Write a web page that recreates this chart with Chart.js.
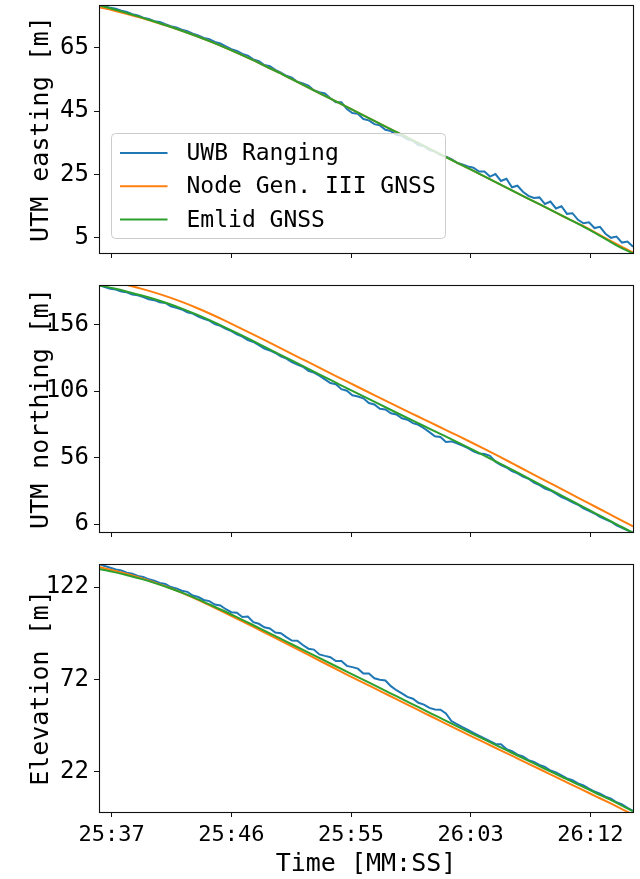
<!DOCTYPE html>
<html>
<head>
<meta charset="utf-8">
<script src="https://cdn.jsdelivr.net/npm/chart.js@4.4.1/dist/chart.umd.min.js"></script>
<style>
  body { margin: 0; background: #fff; }
  #wrap { position: relative; width: 640px; height: 879px; }
  canvas { position: absolute; left: 0; }
</style>
</head>
<body>
<div id="wrap">
  <canvas id="eastingChart" width="640" height="270" style="top:0px"></canvas>
  <canvas id="northingChart" width="640" height="280" style="top:270px"></canvas>
  <canvas id="elevationChart" width="640" height="329" style="top:550px"></canvas>
</div>
<script>
// time is seconds after 25:00
const tickSeconds = [37.8, 46.5, 55.2, 63.9, 72.6];
const tickLabels = ['25:37', '25:46', '25:55', '26:03', '26:12'];
const seriesNames = ['UWB Ranging', 'Node Gen. III GNSS', 'Emlid GNSS'];

const gnssTime = [36.9, 38, 39, 40, 41, 42, 43, 44, 45, 46, 47, 48, 49, 50, 51, 52, 53, 54, 55, 56,
  57, 58, 59, 60, 61, 62, 63, 64, 65, 66, 67, 68, 69, 70, 71, 72, 73, 74, 75, 75.7];

const uwbTime = [36.9, 37.3, 37.7, 38.1, 38.5, 38.9, 39.3, 39.7, 40.1, 40.5, 40.9, 41.3, 41.7, 42.1,
  42.5, 42.9, 43.3, 43.7, 44.1, 44.5, 44.9, 45.3, 45.7, 46.1, 46.5, 46.9, 47.3, 47.7, 48.1, 48.5,
  48.9, 49.3, 49.7, 50.1, 50.5, 50.9, 51.3, 51.7, 52.1, 52.5, 52.9, 53.3, 53.7, 54.1, 54.5, 54.9,
  55.3, 55.7, 56.1, 56.5, 56.9, 57.3, 57.7, 58.1, 58.5, 58.9, 59.3, 59.7, 60.1, 60.5, 60.9, 61.3,
  61.7, 62.1, 62.5, 62.9, 63.3, 63.7, 64.1, 64.5, 64.9, 65.3, 65.7, 66.1, 66.5, 66.9, 67.3, 67.7,
  68.1, 68.5, 68.9, 69.3, 69.7, 70.1, 70.5, 70.9, 71.3, 71.7, 72.1, 72.5, 72.9, 73.3, 73.7, 74.1,
  74.5, 74.9, 75.3, 75.7];

// UTM easting [m]
const eastingUwb = [78.5, 78.2, 77.7, 77.4, 76.8, 76.4, 75.7, 75.3, 74.6, 74.2,
  73.5, 73.2, 72.5, 71.9, 71.5, 70.8, 70.3, 69.5, 69.0, 68.2,
  67.8, 66.9, 66.4, 65.5, 64.6, 64.1, 63.1, 62.6, 61.4, 60.8,
  59.6, 59.2, 58.1, 57.2, 56.2, 55.6, 54.3, 53.8, 53.1, 51.6,
  51.0, 50.6, 49.1, 47.8, 47.8, 45.7, 44.4, 44.2, 42.5, 42.1,
  40.9, 40.5, 39.1, 38.7, 37.5, 37.2, 36.1, 35.6, 34.3, 33.9,
  32.7, 32.2, 31.1, 30.6, 29.8, 28.7, 28.1, 27.5, 27.1, 25.9,
  25.9, 24.3, 25.1, 22.9, 23.6, 20.9, 21.4, 19.5, 18.2, 17.5,
  17.7, 15.6, 16.4, 14.2, 14.9, 12.5, 12.7, 10.6, 9.5, 9.8,
  8.0, 8.4, 6.2, 4.9, 5.3, 3.4, 3.7, 2.1];
const eastingNode = [77.9, 76.8, 75.7, 74.5, 73.1, 71.8, 70.3, 68.7, 67.0, 65.2, 63.3, 61.3, 59.2,
  57.1, 54.9, 52.7, 50.5, 48.3, 46.1, 43.9, 41.7, 39.5, 37.3, 35.1, 32.9, 30.7, 28.5, 26.3, 24.1,
  21.9, 19.7, 17.5, 15.3, 13.1, 10.9, 8.8, 6.5, 4.1, 1.8, 0.3];
const eastingEmlid = [78.5, 77.2, 75.9, 74.6, 73.2, 71.8, 70.3, 68.7, 67.0, 65.2, 63.3, 61.3, 59.2,
  57.1, 54.9, 52.7, 50.5, 48.3, 46.1, 43.9, 41.7, 39.5, 37.3, 35.1, 32.9, 30.7, 28.5, 26.3, 24.1,
  21.9, 19.7, 17.5, 15.3, 13.1, 10.9, 8.7, 6.3, 3.8, 1.4, 0.0];
const eastingTicks = [5, 25, 45, 65];

// UTM northing [m]
const northingUwb = [185.5, 184.2, 182.9, 182.3, 180.8, 180.2, 178.5, 177.9, 176.6, 175.0,
  174.3, 172.8, 172.2, 169.6, 168.6, 167.3, 165.1, 164.2, 162.0, 160.3,
  158.9, 156.3, 155.0, 152.7, 151.1, 148.6, 146.9, 144.2, 142.9, 140.5,
  137.9, 136.5, 134.6, 132.0, 130.3, 127.7, 125.9, 124.2, 121.2, 119.8,
  117.5, 114.8, 112.0, 111.1, 107.4, 106.2, 102.8, 101.9, 100.5, 97.0,
  95.9, 92.7, 92.1, 89.3, 88.4, 85.5, 84.4, 81.8, 80.6, 78.0,
  75.1, 71.9, 71.5, 67.7, 68.1, 66.7, 64.9, 63.0, 60.6, 59.0,
  58.6, 57.3, 52.8, 50.3, 48.5, 45.7, 44.1, 41.6, 40.0, 37.2,
  35.3, 32.7, 31.2, 28.8, 26.3, 24.6, 22.2, 20.5, 17.8, 15.9,
  13.9, 11.4, 9.5, 7.7, 5.0, 3.2, 1.2, -0.5];
const northingNode = [190.5, 188.0, 185.5, 182.8, 179.8, 176.4, 172.6, 168.4, 163.9, 159.1, 154.1,
  149.0, 143.8, 138.6, 133.4, 128.2, 123.0, 117.8, 112.6, 107.5, 102.4, 97.3, 92.2, 87.2, 82.2,
  77.2, 72.2, 67.1, 61.9, 56.6, 51.2, 45.8, 40.4, 35.0, 29.6, 24.2, 18.8, 13.4, 8.0, 4.2];
const northingEmlid = [185.5, 183.0, 180.5, 177.8, 174.8, 171.4, 167.6, 163.4, 158.9, 154.1, 149.1,
  144.0, 138.8, 133.6, 128.4, 123.2, 118.0, 112.8, 107.6, 102.5, 97.4, 92.3, 87.2, 82.2, 77.2,
  72.2, 67.2, 62.1, 56.9, 51.6, 46.3, 40.9, 35.5, 30.1, 24.7, 19.3, 13.9, 8.5, 3.2, -0.5];
const northingTicks = [6, 56, 106, 156];

// Elevation [m]
const elevationUwb = [134.5, 133.4, 132.5, 131.5, 131.0, 129.8, 129.2, 128.0, 127.5, 126.2,
  125.5, 124.2, 123.7, 122.0, 121.3, 120.0, 119.4, 117.4, 116.6, 115.0,
  114.4, 112.5, 112.0, 110.0, 108.4, 108.1, 105.8, 106.0, 103.0, 102.1,
  100.2, 99.6, 97.4, 97.0, 94.9, 93.0, 92.9, 90.6, 88.6, 88.1,
  85.5, 84.7, 84.0, 81.9, 81.9, 79.3, 78.6, 77.8, 75.2, 75.2,
  72.6, 71.8, 71.4, 68.3, 66.1, 64.4, 62.5, 61.5, 59.3, 58.3,
  56.5, 55.7, 55.5, 53.5, 49.4, 47.7, 46.1, 44.6, 43.0, 41.5,
  40.0, 38.5, 37.0, 36.8, 34.2, 33.1, 31.2, 30.2, 28.2, 27.2,
  25.6, 24.6, 22.6, 21.6, 20.0, 18.3, 17.3, 15.6, 14.5, 12.8,
  11.2, 10.1, 8.4, 7.3, 5.4, 4.2, 2.3, 0.7];
const elevationNode = [132.9, 130.9, 128.9, 126.7, 124.3, 121.6, 118.6, 115.3, 111.8, 108.2, 104.5,
  100.8, 97.0, 93.2, 89.4, 85.6, 81.8, 78.0, 74.2, 70.5, 66.8, 63.1, 59.4, 55.7, 52.0, 48.3, 44.6,
  41.0, 37.4, 33.8, 30.2, 26.6, 23.0, 19.4, 15.8, 12.2, 8.6, 5.0, 1.3, -1.3];
const elevationEmlid = [131.8, 130.1, 128.3, 126.3, 124.0, 121.5, 118.7, 115.6, 112.3, 108.9, 105.3,
  101.7, 98.0, 94.3, 90.6, 86.9, 83.2, 79.5, 75.8, 72.1, 68.4, 64.7, 61.0, 57.3, 53.6, 49.9, 46.2,
  42.6, 39.0, 35.4, 31.8, 28.2, 24.6, 21.0, 17.5, 14.0, 10.4, 6.9, 3.2, 0.5];
const elevationTicks = [22, 72, 122];

const colors = ['#1f77b4', '#ff7f0e', '#2ca02c'];

Chart.defaults.font.family = "'DejaVu Sans Mono', monospace";
Chart.defaults.color = '#000';

function toPoints(xs, ys) {
  return xs.map((x, i) => ({ x: x, y: ys[i] }));
}

// box around the plot area, like matplotlib spines
const framePlugin = {
  id: 'frame',
  afterDatasetsDraw(chart) {
    const a = chart.chartArea;
    const ctx = chart.ctx;
    ctx.save();
    ctx.strokeStyle = '#111';
    ctx.lineWidth = 1.1;
    const x0 = Math.round(a.left) + 0.5, x1 = Math.round(a.right) + 0.5;
    const y0 = Math.round(a.top) + 0.5, y1 = Math.round(a.bottom) + 0.5;
    ctx.strokeRect(x0, y0, x1 - x0, y1 - y0);
    ctx.restore();
  }
};

const legendPlugin = {
  id: 'boxLegend',
  afterDatasetsDraw(chart) {
    const a = chart.chartArea;
    const ctx = chart.ctx;
    const bx = a.left + 12.5, by = a.top + 128.5, bw = 334, bh = 105, r = 4;
    ctx.save();
    ctx.beginPath();
    ctx.roundRect(bx, by, bw, bh, r);
    ctx.fillStyle = 'rgba(255,255,255,0.8)';
    ctx.fill();
    ctx.strokeStyle = '#cccccc';
    ctx.lineWidth = 1;
    ctx.stroke();
    ctx.font = "23px 'DejaVu Sans Mono'";
    ctx.textBaseline = 'middle';
    ctx.textAlign = 'left';
    seriesNames.forEach((name, i) => {
      const y = by + 19.5 + i * 33.3;
      ctx.beginPath();
      ctx.moveTo(bx + 8.5, y);
      ctx.lineTo(bx + 56, y);
      ctx.strokeStyle = colors[i];
      ctx.lineWidth = 2;
      ctx.stroke();
      ctx.fillStyle = '#000';
      ctx.fillText(name, bx + 75, y + 1);
    });
    ctx.restore();
  }
};

function makePanel(id, uwb, node, emlid, yMin, yMax, yTicks, yTitle, xAxisHeight, topPad, isBottom, withLegend) {
  const ctx = document.getElementById(id).getContext('2d');
  const plugins = [framePlugin];
  if (withLegend) plugins.push(legendPlugin);
  return new Chart(ctx, {
    type: 'line',
    data: {
      datasets: [
        { label: seriesNames[0], data: toPoints(uwbTime, uwb), borderColor: colors[0], borderWidth: 2, order: 3 },
        { label: seriesNames[1], data: toPoints(gnssTime, node), borderColor: colors[1], borderWidth: 2, order: 2, cubicInterpolationMode: 'monotone' },
        { label: seriesNames[2], data: toPoints(gnssTime, emlid), borderColor: colors[2], borderWidth: 2, order: 1, cubicInterpolationMode: 'monotone' }
      ]
    },
    options: {
      responsive: false,
      animation: false,
      devicePixelRatio: 1,
      layout: { padding: { top: topPad, right: 7, left: 0, bottom: 0 } },
      elements: { point: { radius: 0 }, line: { fill: false } },
      plugins: { legend: { display: false }, tooltip: { enabled: false } },
      scales: {
        x: {
          type: 'linear',
          min: 36.88,
          max: 75.7,
          afterBuildTicks: s => { s.ticks = tickSeconds.map(v => ({ value: v })); },
          afterFit: s => { s.height = xAxisHeight; s.paddingLeft = 0; s.paddingRight = 0; },
          ticks: {
            display: isBottom,
            font: { size: 22 },
            padding: 5,
            maxRotation: 0,
            autoSkip: false,
            callback: (v, i) => tickLabels[i]
          },
          grid: { drawOnChartArea: false, drawTicks: true, tickLength: 5, color: '#111', lineWidth: 1 },
          border: { display: false },
          title: { display: isBottom, text: 'Time [MM:SS]', font: { size: 25 }, padding: { top: 0, bottom: 0 } }
        },
        y: {
          type: 'linear',
          min: yMin,
          max: yMax,
          afterBuildTicks: s => { s.ticks = yTicks.map(v => ({ value: v })); },
          afterFit: s => { s.width = 99; s.paddingTop = 0; s.paddingBottom = 0; },
          ticks: { font: { size: 24 }, padding: 5, callback: v => String(v) },
          grid: { drawOnChartArea: false, drawTicks: true, tickLength: 5, color: '#111', lineWidth: 1 },
          border: { display: false },
          title: { display: true, text: yTitle, font: { size: 25 }, padding: { top: 26, bottom: 0 } }
        }
      }
    },
    plugins: plugins
  });
}

makePanel('eastingChart', eastingUwb, eastingNode, eastingEmlid, 0.1, 78.6, eastingTicks,
  'UTM easting [m]', 17, 5, false, true);
makePanel('northingChart', northingUwb, northingNode, northingEmlid, 0, 185.7, northingTicks,
  'UTM northing [m]', 18, 15, false, false);
makePanel('elevationChart', elevationUwb, elevationNode, elevationEmlid, 0.1, 134.5, elevationTicks,
  'Elevation [m]', 67, 14, true, false);
</script>
</body>
</html>
